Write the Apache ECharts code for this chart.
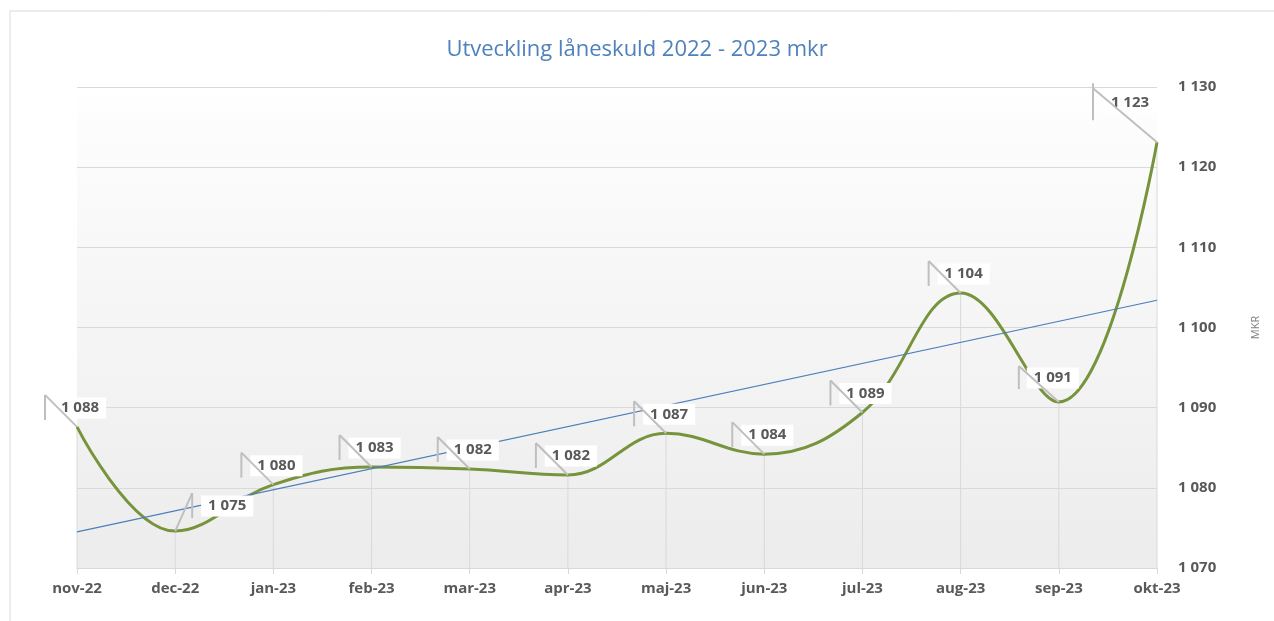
<!DOCTYPE html>
<html>
<head>
<meta charset="utf-8">
<script src="https://cdn.jsdelivr.net/npm/echarts@6/dist/echarts.min.js"></script>
<style>
html, body { margin: 0; padding: 0; background: #fff; }
#main { width: 1274px; height: 621px; }
</style>
</head>
<body>
<div id="main"></div>
<script>
// data
var months = ['nov-22', 'dec-22', 'jan-23', 'feb-23', 'mar-23', 'apr-23', 'maj-23', 'jun-23', 'jul-23', 'aug-23', 'sep-23', 'okt-23'];
var debt = [1087.6, 1074.6, 1080.4, 1082.6, 1082.35, 1081.6, 1086.8, 1084.2, 1089.4, 1104.3, 1090.7, 1123.1];
var trendEnds = [1074.5, 1103.4];   // linear trend, first and last month
var yMin = 1070, yMax = 1130, yStep = 10;

function fmt(v) {
    return String(Math.round(v)).replace(/\B(?=(\d{3})+(?!\d))/g, ' ');
}

// label placement relative to the point (px): text centre, leader tick
function labelPos(i) {
    if (i === 1) return {tx: 17, t1: -38, t2: -13, lx: 52, ly: -25};
    if (i === 10) return {tx: -40, t1: -36, t2: -13, lx: -6, ly: -24};
    if (i === 11) return {tx: -64, t1: -59, t2: -22, lx: -27, ly: -40, dy: -54};
    return {tx: -32, t1: -32, t2: -7, lx: 3, ly: -19};
}

var trendData = months.map(function (m, i) {
    if (i === 0) return trendEnds[0];
    if (i === months.length - 1) return trendEnds[1];
    return null;
});
var pointData = debt.map(function (v, i) { return [i, v]; });

var labelFont = 'bold 15px "Open Sans"';
var grey = '#595959';

var myChart = echarts.init(document.getElementById('main'));
var option = {
    backgroundColor: '#ffffff',
    animation: false,
    title: {
        text: 'Utveckling låneskuld 2022 - 2023 mkr',
        left: 'center',
        top: 34,
        textStyle: {color: '#4f81bd', fontSize: 22, fontWeight: 'normal', fontFamily: 'Open Sans'}
    },
    graphic: [{
        type: 'rect',
        shape: {x: 10, y: 11, width: 1300, height: 700},
        style: {fill: 'none', stroke: '#d9d9d9', lineWidth: 1},
        silent: true
    }],
    grid: {
        left: 77, right: 117, top: 87, bottom: 53,
        show: true,
        borderWidth: 0,
        backgroundColor: {
            type: 'linear', x: 0, y: 0, x2: 0, y2: 1,
            colorStops: [
                {offset: 0, color: '#ffffff'},
                {offset: 0.1, color: '#fcfcfc'},
                {offset: 1, color: '#ececec'}
            ]
        }
    },
    xAxis: {
        type: 'category',
        boundaryGap: false,
        data: months,
        axisLine: {lineStyle: {color: '#d9d9d9'}},
        axisTick: {show: true, length: 6, interval: 0, lineStyle: {color: '#d9d9d9'}},
        axisLabel: {color: grey, fontFamily: 'Open Sans', fontWeight: 'bold', fontSize: 15, margin: 13, interval: 0},
        splitLine: {show: false}
    },
    yAxis: {
        type: 'value',
        position: 'right',
        min: yMin, max: yMax, interval: yStep,
        name: 'MKR',
        nameLocation: 'middle',
        nameRotate: 90,
        nameGap: 93,
        nameTextStyle: {color: '#7f7f7f', fontSize: 11, fontFamily: 'Open Sans'},
        axisLine: {show: false},
        axisTick: {show: false},
        axisLabel: {color: grey, fontFamily: 'Open Sans', fontWeight: 'bold', fontSize: 15, margin: 21, formatter: fmt},
        splitLine: {lineStyle: {color: '#d9d9d9'}}
    },
    series: [
        {
            // drop lines
            type: 'custom',
            z: 1,
            silent: true,
            data: pointData,
            renderItem: function (params, api) {
                var p = api.coord([api.value(0), api.value(1)]);
                var b = api.coord([api.value(0), yMin]);
                return {
                    type: 'line',
                    shape: {x1: p[0], y1: p[1], x2: b[0], y2: b[1]},
                    style: {stroke: '#d9d9d9', lineWidth: 1}
                };
            }
        },
        {
            name: 'Låneskuld',
            type: 'line',
            z: 3,
            data: debt,
            smooth: 0.4,
            symbol: 'none',
            lineStyle: {color: '#77933c', width: 3}
        },
        {
            name: 'Trend',
            type: 'line',
            z: 4,
            data: trendData,
            connectNulls: true,
            symbol: 'none',
            lineStyle: {color: '#4a7ebb', width: 1.2}
        },
        {
            // data labels with leader lines
            type: 'custom',
            z: 10,
            silent: true,
            data: pointData,
            renderItem: function (params, api) {
                var i = params.dataIndex;
                var p = api.coord([api.value(0), api.value(1)]);
                var o = labelPos(i);
                var dy = o.dy !== undefined ? o.dy : o.t1;
                var lineStyle = {stroke: '#bfbfbf', lineWidth: 2};
                return {
                    type: 'group',
                    children: [
                        {
                            type: 'text',
                            x: p[0] + o.lx,
                            y: p[1] + o.ly,
                            style: {
                                text: fmt(api.value(1)),
                                font: labelFont,
                                fill: grey,
                                align: 'center',
                                verticalAlign: 'middle',
                                backgroundColor: '#ffffff',
                                padding: [3, 7]
                            }
                        },
                        {
                            type: 'line',
                            shape: {x1: p[0], y1: p[1], x2: p[0] + o.tx, y2: p[1] + dy},
                            style: lineStyle
                        },
                        {
                            type: 'line',
                            shape: {x1: p[0] + o.tx, y1: p[1] + o.t1, x2: p[0] + o.tx, y2: p[1] + o.t2},
                            style: lineStyle
                        }
                    ]
                };
            }
        }
    ]
};
myChart.setOption(option);
</script>
</body>
</html>
